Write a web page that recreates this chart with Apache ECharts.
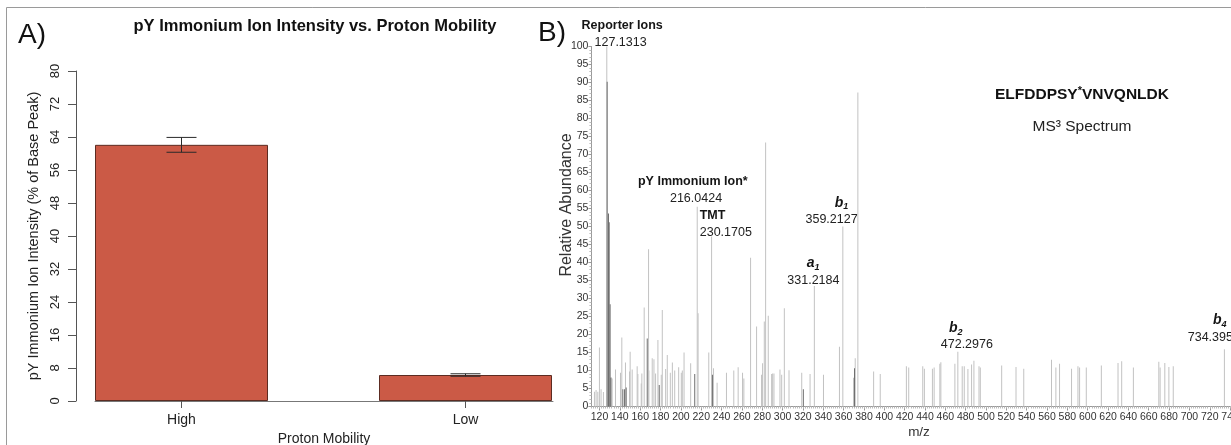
<!DOCTYPE html>
<html><head><meta charset="utf-8">
<script src="https://cdn.jsdelivr.net/npm/echarts@6/dist/echarts.min.js"></script>
<style>html,body{margin:0;padding:0;background:#fff}#c{width:1231px;height:445px}</style>
</head><body><div id="c"></div>
<script>
// ---------- Panel A data ----------
const mobilityCategories = ['High', 'Low'];
const immoniumMeans = [62.1, 6.3];
const immoniumErrors = [1.8, 0.3];

// ---------- Panel B data ----------
const lightPeakMz = [115.0,116.6,118.3,119.9,121.5,123.8,127.1313,131.4,132.4,135.7,140.6,141.9,145.5,149.5,150.1,152.1,157.0,157.7,161.0,161.6,163.9,168.2,168.5,171.8,173.5,175.1,177.4,180.7,181.7,185.0,186.6,189.6,191.6,193.9,197.8,200.4,201.4,203.1,209.6,216.0424,216.9,227.4,230.1705,232.0,235.6,244.8,252.0,256.3,260.6,261.9,268.5,274.4,279.3,280.3,282.0,283.3,285.9,289.2,290.2,291.5,297.4,299.1,301.7,306.3,318.8,327.0,331.2184,340.2,355.9,359.2127,369.7,371.4,374.0,389.5,396.0,421.7,424.0,437.8,439.4,447.3,449.0,454.6,455.6,469.4,472.2976,476.6,478.6,482.2,485.8,488.1,493.1,494.4,515.4,529.5,537.1,564.4,568.7,572.3,584.1,590.4,592.0,598.6,613.4,629.8,633.4,644.9,669.9,671.2,675.8,679.8,684.1,734.395];
const lightPeakInt = [4.1,4.6,4.1,16.4,4.8,4.0,100,8.1,7.8,10.3,9.4,19.2,12.2,9.7,15.2,10.3,11.2,9.0,6.4,9.2,27.5,43.7,10.0,13.4,13.1,9.2,18.5,8.8,26.8,10.4,14.3,9.4,12.2,10.0,10.9,9.4,10.0,15.0,12.0,55.5,25.9,15.0,47.2,10.6,6.6,9.4,10.0,10.9,9.4,7.8,41.3,22.2,8.8,12.0,23.6,73.3,25.2,9.0,9.2,9.2,10.3,8.8,27.3,10.1,9.4,9.0,33.5,8.8,16.6,50.0,8.0,13.4,87.2,9.7,9.0,11.2,10.8,11.2,10.5,10.5,10.8,11.9,12.3,11.9,15.2,11.2,11.2,10.4,11.7,12.7,11.2,10.8,11.4,11.0,10.5,13.0,10.8,11.9,10.5,11.2,10.8,10.8,11.4,12.1,12.6,10.8,12.4,10.8,12.1,11.0,11.2,15.9];
const darkPeakMz = [127.5,128.8,129.5,130.4,131.1,142.9,144.6,146.2,166.9,178.7,213.6,231.0,320.4,370.7];
const darkPeakInt = [90.2,53.6,51.2,28.4,8.0,4.8,4.8,5.3,18.9,6.0,9.0,8.8,4.8,10.6];
const mzTickLabels = [120,140,160,180,200,220,240,260,280,300,320,340,360,380,400,420,440,460,480,500,520,540,560,580,600,620,640,660,680,700,720,740];
const annotMz = [127.1313, 216.0424, 230.1705, 331.2184, 359.2127, 472.2976, 734.395];
const annotName = ['Reporter Ions', 'pY Immonium Ion*', 'TMT', 'a1', 'b1', 'b2', 'b4'];
const annotValue = ['127.1313', '216.0424', '230.1705', '331.2184', '359.2127', '472.2976', '734.395'];

// ---------- layout / style (not data) ----------
const annotLayout = [
  {dx: -25, dy: -29, namePad: 0, valPad: 13},
  {dx: -59, dy: -33.5, namePad: 0, valPad: 32},
  {dx: -11.6, dy: -29, namePad: 0, valPad: 0},
  {dx: -26.8, dy: -31, namePad: 19.5, valPad: 0},
  {dx: -37.1, dy: -32, namePad: 29.3, valPad: 0},
  {dx: -16.8, dy: -32, namePad: 8.2, valPad: 0},
  {dx: -36.4, dy: -37, namePad: 25.2, valPad: 0}
];
const FONT = '"Liberation Sans", Arial, Helvetica, sans-serif';
const INK = '#151515';

function intensityAt(mz) {
  const i = lightPeakMz.indexOf(mz);
  return i >= 0 ? lightPeakInt[i] : 0;
}

const annotData = annotMz.map((mz, i) => {
  const L = annotLayout[i];
  const m = /^([ab])(\d)$/.exec(annotName[i]);
  const nameText = m ? `{ion|${m[1]}}{sub|${m[2]}}` : `{nm|${annotName[i]}}`;
  return {
    value: [mz, intensityAt(mz)],
    label: {
      show: true,
      position: [L.dx, L.dy],
      align: 'left',
      verticalAlign: 'top',
      color: INK,
      opacity: 1,
      textBorderWidth: 0,
      formatter: nameText + '\n' + `{val|${annotValue[i]}}`,
      rich: {
        nm: {fontFamily: FONT, fontWeight: 'bold', fontSize: 12.5, lineHeight: 17, color: INK, textBorderWidth: 0, padding: [0, 0, 0, L.namePad]},
        ion: {fontFamily: FONT, fontWeight: 'bold', fontStyle: 'italic', fontSize: 14, lineHeight: 17, color: INK, textBorderWidth: 0, padding: [0, 0, 0, L.namePad]},
        sub: {fontFamily: FONT, fontWeight: 'bold', fontStyle: 'italic', fontSize: 9, lineHeight: 17, color: INK, textBorderWidth: 0, verticalAlign: 'bottom'},
        val: {fontFamily: FONT, fontSize: 12.5, lineHeight: 17, color: '#222', textBorderWidth: 0, padding: [0, 0, 0, L.valPad]}
      }
    }
  };
});

const chart = echarts.init(document.getElementById('c'), null, {renderer: 'canvas'});
chart.setOption({
  animation: false,
  backgroundColor: '#fff',
  textStyle: {fontFamily: FONT},
  grid: [
    {left: 95, top: 71, width: 458, height: 330, containLabel: false, outerBoundsMode: 'none'},
    {left: 591.4, top: 46.5, width: 638.7, height: 360, containLabel: false, outerBoundsMode: 'none'}
  ],
  xAxis: [
    {
      type: 'value', gridIndex: 0, min: -0.3046, max: 1.3081, position: 'bottom',
      axisLine: {show: true, onZero: false, lineStyle: {color: '#777', width: 1}},
      axisTick: {show: true, customValues: [0, 1], length: 7, lineStyle: {color: '#555'}},
      axisLabel: {customValues: [0, 1], formatter: v => mobilityCategories[Math.round(v)], fontSize: 14, color: '#222', margin: 12},
      splitLine: {show: false},
      name: 'Proton Mobility', nameLocation: 'middle', nameGap: 28,
      nameTextStyle: {fontSize: 14, color: '#222'}
    },
    {
      type: 'value', gridIndex: 1, min: 112, max: 740, position: 'bottom',
      axisLine: {show: true, onZero: false, lineStyle: {color: '#999', width: 1}},
      axisTick: {show: true, customValues: mzTickLabels, length: 4, lineStyle: {color: '#999'}},
      axisLabel: {customValues: mzTickLabels, fontSize: 10.5, color: '#333', margin: 5},
      splitLine: {show: false}
    },
    {
      type: 'value', gridIndex: 1, min: 112, max: 740, interval: 2, position: 'bottom',
      axisLine: {show: false, onZero: false},
      axisTick: {show: true, length: 2, lineStyle: {color: '#bbb'}},
      axisLabel: {show: false},
      splitLine: {show: false}
    }
  ],
  yAxis: [
    {
      type: 'value', gridIndex: 0, min: 0, max: 80, interval: 8, offset: 19, position: 'left',
      axisLine: {show: true, onZero: false, lineStyle: {color: '#555'}},
      axisTick: {show: true, length: 8, lineStyle: {color: '#555'}},
      axisLabel: {rotate: 90, align: 'center', verticalAlign: 'bottom', fontSize: 13, color: '#222', margin: 14},
      splitLine: {show: false},
      name: 'pY Immonium Ion Intensity (% of Base Peak)', nameLocation: 'middle', nameGap: 35,
      nameTextStyle: {fontSize: 14.5, color: '#222'}
    },
    {
      type: 'value', gridIndex: 1, min: 0, max: 100, interval: 5, position: 'left',
      axisLine: {show: true, onZero: false, lineStyle: {color: '#999'}},
      axisTick: {show: true, length: 3, lineStyle: {color: '#999'}},
      minorTick: {show: true, splitNumber: 5, length: 2, lineStyle: {color: '#bbb'}},
      axisLabel: {fontSize: 10.5, color: '#333', margin: 3},
      splitLine: {show: false}
    }
  ],
  series: [
    {
      type: 'bar', xAxisIndex: 0, yAxisIndex: 0, barWidth: 173,
      data: mobilityCategories.map((c, i) => [i, immoniumMeans[i]]),
      itemStyle: {color: '#cb5a46', borderColor: '#5c2c22', borderWidth: 1}
    },
    {
      type: 'custom', xAxisIndex: 0, yAxisIndex: 0, z: 5,
      data: mobilityCategories.map((c, i) => [i, immoniumMeans[i], immoniumErrors[i]]),
      renderItem: (params, api) => {
        const x = api.value(0), m = api.value(1), e = api.value(2);
        const t = api.coord([x, m + e]), b = api.coord([x, m - e]);
        const hw = 15, st = {stroke: '#2a2a2a', lineWidth: 1};
        return {type: 'group', children: [
          {type: 'line', shape: {x1: t[0], y1: t[1], x2: b[0], y2: b[1]}, style: st},
          {type: 'line', shape: {x1: t[0] - hw, y1: t[1], x2: t[0] + hw, y2: t[1]}, style: st},
          {type: 'line', shape: {x1: b[0] - hw, y1: b[1], x2: b[0] + hw, y2: b[1]}, style: st}
        ]};
      }
    },
    {
      type: 'bar', xAxisIndex: 1, yAxisIndex: 1, barWidth: 1, barGap: '-100%',
      data: lightPeakMz.map((mz, i) => [mz, lightPeakInt[i]]),
      itemStyle: {color: '#c2c2c2'}
    },
    {
      type: 'bar', xAxisIndex: 1, yAxisIndex: 1, barWidth: 1, barGap: '-100%',
      data: darkPeakMz.map((mz, i) => [mz, darkPeakInt[i]]),
      itemStyle: {color: '#6e6e6e'}
    },
    {
      type: 'scatter', xAxisIndex: 1, yAxisIndex: 1, symbolSize: 0.5,
      itemStyle: {color: '#fff', opacity: 0},
      data: annotData, z: 10
    }
  ],
  graphic: [
    {type: 'rect', shape: {x: 6.5, y: 7.5, width: 1240, height: 460}, style: {fill: 'none', stroke: '#9a9a9a', lineWidth: 1}, silent: true},
    {type: 'text', x: 18, y: 35, style: {text: 'A)', fontSize: 28, fontFamily: FONT, fill: '#111', textVerticalAlign: 'middle'}},
    {type: 'text', x: 538, y: 33, style: {text: 'B)', fontSize: 28, fontFamily: FONT, fill: '#111', textVerticalAlign: 'middle'}},
    {type: 'text', x: 315, y: 26, style: {text: 'pY Immonium Ion Intensity vs. Proton Mobility', fontSize: 16.5, fontWeight: 'bold', fontFamily: FONT, fill: '#111', textAlign: 'center', textVerticalAlign: 'middle'}},
    {type: 'text', x: 1082, y: 95, style: {
      text: '{a|ELFDDPSY}{s|*}{a|VNVQNLDK}', textAlign: 'center', textVerticalAlign: 'middle',
      rich: {
        a: {fontSize: 15.5, fontWeight: 'bold', fontFamily: FONT, fill: '#111', lineHeight: 20},
        s: {fontSize: 11, fontWeight: 'bold', fontFamily: FONT, fill: '#111', lineHeight: 20, verticalAlign: 'top'}
      }}},
    {type: 'text', x: 1082, y: 127, style: {text: 'MS\u00B3 Spectrum', fontSize: 15.5, fontFamily: FONT, fill: '#222', textAlign: 'center', textVerticalAlign: 'middle'}},
    {type: 'text', x: 567, y: 205, rotation: Math.PI / 2, style: {text: 'Relative Abundance', fontSize: 16, fontFamily: FONT, fill: '#333', textAlign: 'center', textVerticalAlign: 'middle'}},
    {type: 'text', x: 919, y: 432, style: {text: 'm/z', fontSize: 13.5, fontFamily: FONT, fill: '#333', textAlign: 'center', textVerticalAlign: 'middle'}}
  ]
});
</script></body></html>
